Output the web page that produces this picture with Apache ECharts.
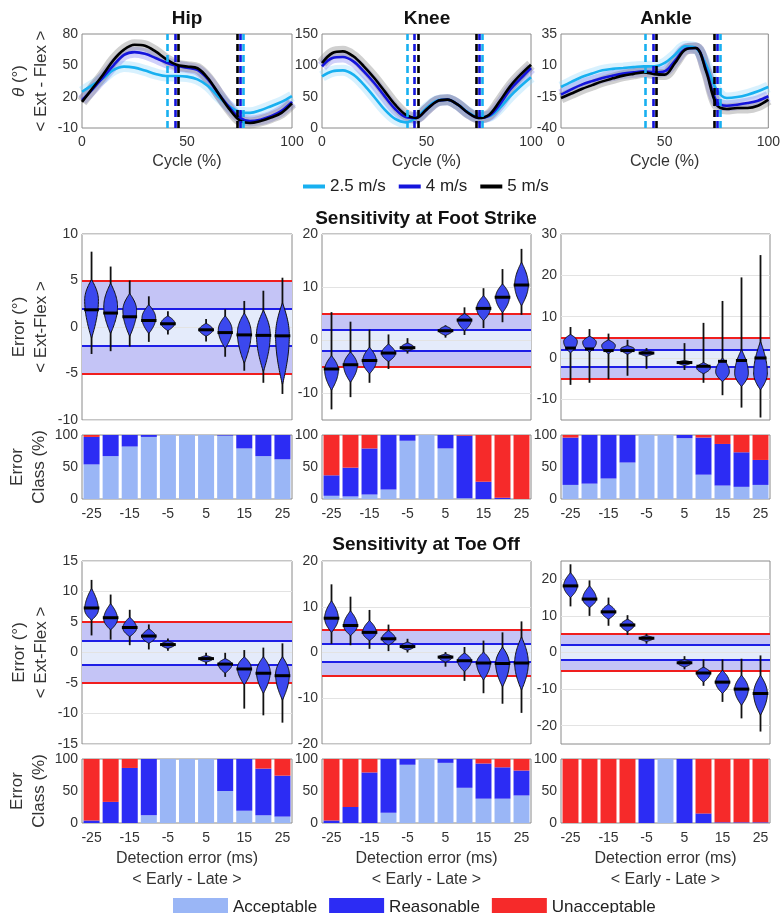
<!DOCTYPE html>
<html><head><meta charset="utf-8">
<script src="https://cdn.jsdelivr.net/npm/echarts@6/dist/echarts.min.js"></script>
<style>html,body{margin:0;padding:0;background:#fff}#c{width:783px;height:913px}</style>
</head><body><div id="c"></div>
<script>
// ---------- DATA ----------
const cycle = [0,5,10,15,20,25,30,35,40,45,50,55,60,65,70,75,80,85,90,95,100];
const speeds = ['2.5 m/s','4 m/s','5 m/s'];
const hip25 = [24.7,31,37.6,45.6,48.8,47.8,45,41.8,39.8,39.8,39.2,36.6,30.2,19.9,10.9,5.4,4.5,7,10.9,15,20.5];
const hip4  = [16.7,27,38.5,50,60,62.6,61,57,52.7,49.5,47.8,45.6,36.6,23,10.2,0,-3.3,-2,1.2,6.4,15];
const hip5  = [15,28,41,55,65,69.7,68.7,63.3,56,50.5,48.8,47.2,37.6,23,8.6,-2.6,-5.2,-3.3,0,4.5,13.5];
const knee25 = [82.4,90.4,92,85.1,69.1,49.5,29.3,14.4,9,16,31.9,43.6,45.2,37.2,25,17.6,18.6,31.9,50.5,66.5,80.9];
const knee4  = [98.4,111.7,113.3,106.4,90.4,71.8,50.5,30.3,17.6,16,29.3,42.6,45.2,37.2,23.9,16,19.7,37.2,61.2,78.7,95.7];
const knee5  = [103.7,119.7,122.3,114.4,98.4,79.8,58.5,37.2,21.3,16,29.3,42.6,45.2,37.2,23.9,16,21.3,42.6,66.5,85.1,101];
const ankle25 = [-7.3,-3.2,0.7,3.5,6,7.2,7.9,8.6,9.2,9.2,11.9,18.5,25.2,23.8,10.5,-9.4,-16.1,-15.3,-13.4,-10.7,-7.3];
const ankle4  = [-13.4,-9.2,-5.4,-2.6,-0.1,1.8,3.4,4.4,5.2,4.4,5.2,13.7,23,23.8,6.5,-18.7,-22.2,-21.4,-20.1,-18.2,-14.7];
const ankle5  = [-16.1,-12.5,-8.9,-5.8,-2.8,-0.4,1.8,3.2,4.4,3.0,2.6,11.9,22.5,23.8,5.2,-21.4,-24.8,-24,-24,-22.2,-17.4];
const eventA = [40.8, 44.3, 46.0];   // per speed
const eventB = [76.8, 75.3, 74.0];
const angleTicks = [[-10,20,50,80],[0,50,100,150],[-40,-15,10,35]];
const angleRange = [[-10,80],[0,150],[-40,35]];
const joints = ['Hip','Knee','Ankle'];

const detCats = ['-25','-20','-15','-10','-5','0','5','10','15','20','25'];
// violins: [lo, bodyLo, peak, bodyHi, hi, median]
const fsHip = [[-2.9,-1.2,2.9,5.1,8.1,1.85],[-2.6,-0.7,2.2,4.7,6.5,1.5],[-2.1,-1.0,1.8,3.6,5.0,1.1],[-1.6,-0.7,0.95,2.4,3.3,0.7],[-0.8,-0.4,0.4,1.2,1.7,0.35],null,
  [-1.55,-1.0,-0.3,0.4,0.85,-0.3],[-3.2,-2.3,-0.3,1.2,1.9,-0.6],[-4.7,-3.9,-0.6,1.5,2.8,-0.85],[-6.0,-4.8,-0.8,1.8,3.9,-0.9],[-7.2,-6.2,-0.9,2.6,5.3,-0.95]];
const fsKnee = [[-13.0,-9.4,-5.6,-2.9,5.3,-5.4],[-10.7,-7.9,-4.7,-2.2,3.5,-4.6],[-8.0,-6.3,-3.9,-1.3,2.0,-3.8],[-5.4,-4.0,-2.5,-0.7,1.1,-2.4],[-2.5,-2.0,-1.4,-0.5,0.4,-1.4],null,
  [0.5,0.9,1.8,2.7,2.8,1.8],[1.0,1.8,3.8,5.0,6.2,3.8],[2.3,3.7,6.0,8.4,9.8,6.0],[3.4,5.2,8.1,10.6,13.4,8.1],[4.8,6.5,10.4,14.7,17.2,10.4]];
const fsAnkle = [[-6.5,1.2,4.0,5.7,7.5,2.4],[-6.0,1.4,3.8,5.3,7.0,2.2],[-5.1,1.0,3.0,4.4,5.9,1.8],[-4.3,0.9,2.2,3.0,4.4,1.8],[-2.6,0.4,1.2,1.8,2.4,1.2],null,
  [-2.9,-1.8,-1.1,-0.6,3.6,-1.1],[-6.0,-3.8,-2.4,-1.1,8.5,-2.0],[-9.0,-5.7,-3.3,0.0,13.8,-0.8],[-12.0,-6.9,-3.7,2.0,19.5,-0.6],[-14.4,-7.7,-3.7,4.0,24.9,0.0]];
const toHip = [[2.8,5.3,7.0,10.5,11.9,7.3],[2.1,3.7,5.5,8.0,9.5,5.7],[1.2,2.6,4.0,5.8,7.0,4.1],[0.5,1.5,2.6,3.9,4.6,2.7],[0.3,0.65,1.3,1.9,2.3,1.3],null,
  [-2.0,-1.6,-1.0,-0.5,-0.05,-1.0],[-4.0,-3.4,-1.9,-1.0,-0.05,-1.9],[-9.2,-5.3,-2.5,-0.7,0.4,-2.7],[-10.3,-6.7,-3.2,-0.7,0.8,-3.4],[-11.5,-7.8,-3.6,-0.7,1.5,-3.8]];
const toKnee = [[1.9,4.4,7.5,11.3,14.9,7.5],[1.6,3.7,5.9,9.1,12.2,5.9],[0.8,2.6,4.4,7.0,9.3,4.4],[0.3,1.6,3.0,4.8,6.1,3.0],[0.0,0.5,1.3,2.3,3.0,1.3],null,
  [-3.1,-2.1,-1.0,-0.3,0.1,-1.0],[-6.2,-4.2,-1.8,-0.1,1.2,-1.8],[-8.9,-6.0,-2.3,0.1,2.6,-2.3],[-11.2,-7.5,-2.4,1.2,4.4,-2.4],[-13.2,-8.2,-2.3,3.4,6.8,-2.3]];
const toAnkle = [[12.6,15.0,18.2,21.8,24.1,18.2],[10.0,12.3,14.6,18.2,19.7,14.6],[7.3,9.1,11.1,13.2,15.0,11.1],[4.8,5.7,7.5,9.1,10.2,7.5],[2.4,3.0,3.9,4.6,5.1,3.9],null,
  [-4.6,-4.0,-2.8,-1.9,-1.0,-2.8],[-9.1,-8.1,-5.6,-4.0,-1.9,-5.6],[-13.5,-11.2,-8.1,-4.9,-1.9,-8.1],[-18.0,-14.4,-10.0,-6.2,-1.7,-10.0],[-21.6,-17.1,-11.2,-6.2,-0.8,-11.2]];
const fsTicks = [[-10,-5,0,5,10],[-10,0,10,20],[-10,0,10,20,30]];
const fsRange = [[-10,10],[-15,20],[-15,30]];
const toTicks = [[-15,-10,-5,0,5,10,15],[-20,-10,0,10,20],[-20,-10,0,10,20]];
const toRange = [[-15,15],[-20,20],[-25,25]];
const acceptLimit = 2, reasonLimit = 5;

const classNames = ['Acceptable','Reasonable','Unacceptable'];
const fsHipA = [54,67,82,97,100,100,100,99,79,67,62];
const fsHipR = [43,33,18,3,0,0,0,1,21,33,38];
const fsHipU = [3,0,0,0,0,0,0,0,0,0,0];
const fsKneeA = [5,4,7,15,91,100,79,1,0,0,0];
const fsKneeR = [32,45,72,85,9,0,21,98,27,2,0];
const fsKneeU = [63,51,21,0,0,0,0,1,73,98,100];
const fsAnkA = [22,24,32,57,100,100,95,38,21,19,22];
const fsAnkR = [74,76,68,43,0,0,5,58,65,54,39];
const fsAnkU = [4,0,0,0,0,0,0,4,14,27,39];
const toHipA = [0,0,0,12,100,100,100,50,19,12,10];
const toHipR = [4,33,86,88,0,0,0,50,81,73,64];
const toHipU = [96,67,14,0,0,0,0,0,0,15,26];
const toKneeA = [0,0,0,16,91,100,94,55,38,38,43];
const toKneeR = [4,25,79,84,9,0,6,45,55,49,39];
const toKneeU = [96,75,21,0,0,0,0,0,7,13,18];
const toAnkA = [0,0,0,0,0,100,0,0,0,0,0];
const toAnkR = [0,0,0,0,100,0,100,15,1,1,1];
const toAnkU = [100,100,100,100,0,0,0,85,99,99,99];
const classTicks = [0,50,100];

// ---------- LAYOUT / STYLE ----------
const FONT = '"Liberation Sans", Arial, Helvetica, sans-serif';
const TXT = '#333';
const colL = [82, 322, 561], colW = [210, 209, 209];
const rows = [{top:34,h:94},{top:234,h:186},{top:435,h:64},{top:561,h:183},{top:759,h:64}];
const speedColor = ['#18b0f0','#1414dc','#000000'];
const bandColor = ['#8fd8fb','#7a7af0','#777777'];
const classColor = ['#9ab6f6','#2c2cf4','#f62a2a'];

const grid = [], xAxis = [], yAxis = [], series = [];
function addGrid(r, c) {
  grid.push({left: colL[c], top: rows[r].top, width: colW[c], height: rows[r].h,
    show: true, borderColor: '#8a8a8a', borderWidth: 1, backgroundColor: '#fff'});
  return grid.length - 1;
}
const lbl = (extra) => Object.assign({fontSize: 14, color: TXT, fontFamily: FONT}, extra || {});
const nameStyle = {fontSize: 17, color: TXT, fontFamily: FONT, lineHeight: 22};

// Row 1: joint angles
const angleData = [[hip25,hip4,hip5],[knee25,knee4,knee5],[ankle25,ankle4,ankle5]];
for (let c = 0; c < 3; c++) {
  const g = addGrid(0, c);
  xAxis.push({gridIndex: g, type: 'value', min: 0, max: 100, interval: 50,
    axisLine: {show: false}, axisTick: {show: false}, splitLine: {show: false},
    axisLabel: lbl({margin: 7}), name: 'Cycle (%)', nameLocation: 'middle', nameGap: 24,
    nameTextStyle: {fontSize: 16, color: TXT, fontFamily: FONT, lineHeight: 20}});
  const ya = {gridIndex: g, type: 'value', min: angleRange[c][0], max: angleRange[c][1],
    axisLine: {show: false}, axisTick: {show: false, customValues: angleTicks[c]}, splitLine: {show: false},
    axisLabel: lbl({margin: 4, customValues: angleTicks[c]})};
  if (c === 0) Object.assign(ya, {name: '{i|θ} (°)\n< Ext - Flex >', nameLocation: 'middle', nameRotate: 90, nameGap: 30,
    nameTextStyle: Object.assign({}, nameStyle, {rich: {i: {fontStyle: 'italic', fontSize: 17, fontFamily: FONT, color: TXT}}})});
  yAxis.push(ya);
  for (let s = 0; s < 3; s++) {
    const pts = cycle.map((x, i) => [x, angleData[c][s][i]]);
    series.push({type: 'line', name: speeds[s] + ' sd', xAxisIndex: g, yAxisIndex: g, data: pts, smooth: 0.35,
      symbol: 'none', silent: true, z: 1 + s * 0.1, lineStyle: {width: 11, color: bandColor[s], opacity: 0.35}});
  }
  for (let s = 0; s < 3; s++) {
    const pts = cycle.map((x, i) => [x, angleData[c][s][i]]);
    series.push({type: 'line', name: speeds[s], xAxisIndex: g, yAxisIndex: g, data: pts, smooth: 0.35,
      symbol: 'none', z: 3 + s * 0.1, lineStyle: {width: 2.6, color: speedColor[s]}, itemStyle: {color: speedColor[s]},
      markLine: {silent: true, symbol: ['none','none'], label: {show: false}, z: 4 + s * 0.1,
        lineStyle: {color: speedColor[s], type: [7, 4], width: 2.6},
        emphasis: {disabled: true},
        data: [{xAxis: eventA[s]}, {xAxis: eventB[s]}]}});
  }
}

// violin renderer
function violinRender(params, api) {
  const i = api.value(0);
  const lo = api.value(1), bLo = api.value(2), pk = api.value(3), bHi = api.value(4), hi = api.value(5), med = api.value(6);
  if (isNaN(lo)) return;
  const W = api.size([1, 0])[0] * 0.36;
  const X = api.coord([i, 0])[0];
  const Y = (y) => api.coord([i, y])[1];
  const prof = (y) => {
    let t = y < pk ? (pk - y) / (pk - bLo) : (y - pk) / (bHi - pk);
    if (!isFinite(t)) t = 0;
    return t >= 1 ? 0 : Math.pow(Math.cos(t * Math.PI / 2), 0.95);
  };
  const N = 40, right = [], left = [];
  for (let k = 0; k <= N; k++) {
    const y = bLo + (bHi - bLo) * k / N;
    const w = W * prof(y);
    right.push([X + w, Y(y)]);
    left.push([X - w, Y(y)]);
  }
  const pts = right.concat(left.reverse());
  const wm = Math.max(W * prof(med), 3.5) + 1;
  return {type: 'group', children: [
    {type: 'line', shape: {x1: X, y1: Y(lo), x2: X, y2: Y(hi)}, style: {stroke: '#111', lineWidth: 1.8}},
    {type: 'polygon', shape: {points: pts, smooth: 0}, style: {fill: '#3b48ee', stroke: '#111', lineWidth: 1}},
    {type: 'line', shape: {x1: X - wm, y1: Y(med), x2: X + wm, y2: Y(med)}, style: {stroke: '#000', lineWidth: 3}}
  ]};
}

function violinPanel(r, c, data, ticks, range) {
  const g = addGrid(r, c);
  xAxis.push({gridIndex: g, type: 'category', data: detCats, boundaryGap: true,
    axisLine: {show: false}, axisTick: {show: false}, axisLabel: {show: false}, splitLine: {show: false}});
  const ya = {gridIndex: g, type: 'value', min: range[0], max: range[1],
    axisLine: {show: false}, axisTick: {show: false, customValues: ticks}, splitLine: {show: false},
    axisLabel: lbl({margin: 4, customValues: ticks})};
  if (c === 0) Object.assign(ya, {name: 'Error (°)\n< Ext-Flex >', nameLocation: 'middle', nameRotate: 90, nameGap: 30, nameTextStyle: nameStyle});
  yAxis.push(ya);
  // bands + gridlines
  series.push({type: 'line', name: 'bands', xAxisIndex: g, yAxisIndex: g, data: [], silent: true, z: 1,
    markArea: {silent: true, z: 1, emphasis: {disabled: true},
      data: [
        [{yAxis: reasonLimit, itemStyle: {color: '#c4c4f6', opacity: 1}}, {yAxis: acceptLimit}],
        [{yAxis: acceptLimit, itemStyle: {color: '#e4ebfb', opacity: 1}}, {yAxis: -acceptLimit}],
        [{yAxis: -acceptLimit, itemStyle: {color: '#c4c4f6', opacity: 1}}, {yAxis: -reasonLimit}]
      ]},
    markLine: {silent: true, z: 2, symbol: ['none','none'], label: {show: false}, emphasis: {disabled: true},
      lineStyle: {color: '#e3e3e3', type: 'solid', width: 1.2},
      data: ticks.map(t => ({yAxis: t}))}});
  series.push({type: 'line', name: 'limits', xAxisIndex: g, yAxisIndex: g, data: [], silent: true, z: 3,
    markLine: {silent: true, z: 3, symbol: ['none','none'], label: {show: false}, emphasis: {disabled: true},
      data: [
        {yAxis: reasonLimit, lineStyle: {color: '#f01e1e', width: 2, type: 'solid'}},
        {yAxis: -reasonLimit, lineStyle: {color: '#f01e1e', width: 2, type: 'solid'}},
        {yAxis: acceptLimit, lineStyle: {color: '#1e1ee6', width: 2, type: 'solid'}},
        {yAxis: -acceptLimit, lineStyle: {color: '#1e1ee6', width: 2, type: 'solid'}}
      ]}});
  const vd = [];
  data.forEach((d, i) => { if (d) vd.push([i].concat(d)); });
  series.push({type: 'custom', name: 'violin', xAxisIndex: g, yAxisIndex: g, z: 10, silent: true,
    renderItem: violinRender, encode: {x: 0, y: [1,2,3,4,5,6]}, data: vd});
}

function barPanel(r, c, A, R, U, lastRow) {
  const g = addGrid(r, c);
  const xa = {gridIndex: g, type: 'category', data: detCats, boundaryGap: true,
    axisLine: {show: false}, axisTick: {show: false}, splitLine: {show: false},
    axisLabel: lbl({interval: 1, margin: 8})};
  if (lastRow) Object.assign(xa, {name: 'Detection error (ms)\n< Early - Late >', nameLocation: 'middle', nameGap: 25,
    nameTextStyle: {fontSize: 16, color: TXT, fontFamily: FONT, lineHeight: 21}});
  xAxis.push(xa);
  const ya = {gridIndex: g, type: 'value', min: 0, max: 100,
    axisLine: {show: false}, axisTick: {show: false, customValues: classTicks}, splitLine: {show: false},
    axisLabel: lbl({margin: 4, customValues: classTicks})};
  if (c === 0) Object.assign(ya, {name: 'Error\nClass (%)', nameLocation: 'middle', nameRotate: 90, nameGap: 32, nameTextStyle: nameStyle});
  yAxis.push(ya);
  [A, R, U].forEach((arr, k) => {
    series.push({type: 'bar', name: classNames[k], xAxisIndex: g, yAxisIndex: g, stack: 'st' + g,
      data: arr, barCategoryGap: '16%', itemStyle: {color: classColor[k]}, silent: true});
  });
}

const fsV = [fsHip, fsKnee, fsAnkle], toV = [toHip, toKnee, toAnkle];
const fsB = [[fsHipA,fsHipR,fsHipU],[fsKneeA,fsKneeR,fsKneeU],[fsAnkA,fsAnkR,fsAnkU]];
const toB = [[toHipA,toHipR,toHipU],[toKneeA,toKneeR,toKneeU],[toAnkA,toAnkR,toAnkU]];
for (let c = 0; c < 3; c++) violinPanel(1, c, fsV[c], fsTicks[c], fsRange[c]);
for (let c = 0; c < 3; c++) barPanel(2, c, fsB[c][0], fsB[c][1], fsB[c][2], false);
for (let c = 0; c < 3; c++) violinPanel(3, c, toV[c], toTicks[c], toRange[c]);
for (let c = 0; c < 3; c++) barPanel(4, c, toB[c][0], toB[c][1], toB[c][2], true);

const titleStyle = (x, y, t, size) => ({type: 'text', x: x, y: y,
  style: {text: t, fontSize: size, fontWeight: 'bold', fontFamily: FONT, fill: '#111', textAlign: 'center', textVerticalAlign: 'middle'}});

const option = {
  animation: false,
  backgroundColor: '#fff',
  grid, xAxis, yAxis, series,
  legend: [
    {data: speeds, left: 298, top: 173, itemWidth: 22, itemHeight: 4, itemGap: 13, icon: 'rect',
      textStyle: {fontSize: 17, color: '#222', fontFamily: FONT}, selectedMode: false},
    {data: classNames, left: 168, top: 893, itemWidth: 55, itemHeight: 18, itemGap: 12, icon: 'rect',
      textStyle: {fontSize: 17, color: '#222', fontFamily: FONT}, selectedMode: false}
  ],
  graphic: [
    titleStyle(187, 19, joints[0], 19),
    titleStyle(427, 19, joints[1], 19),
    titleStyle(666, 19, joints[2], 19),
    titleStyle(426, 219, 'Sensitivity at Foot Strike', 19),
    titleStyle(426, 545, 'Sensitivity at Toe Off', 19)
  ]
};
const chart = echarts.init(document.getElementById('c'), null, {renderer: 'canvas', width: 783, height: 913});
chart.setOption(option);
</script></body></html>
